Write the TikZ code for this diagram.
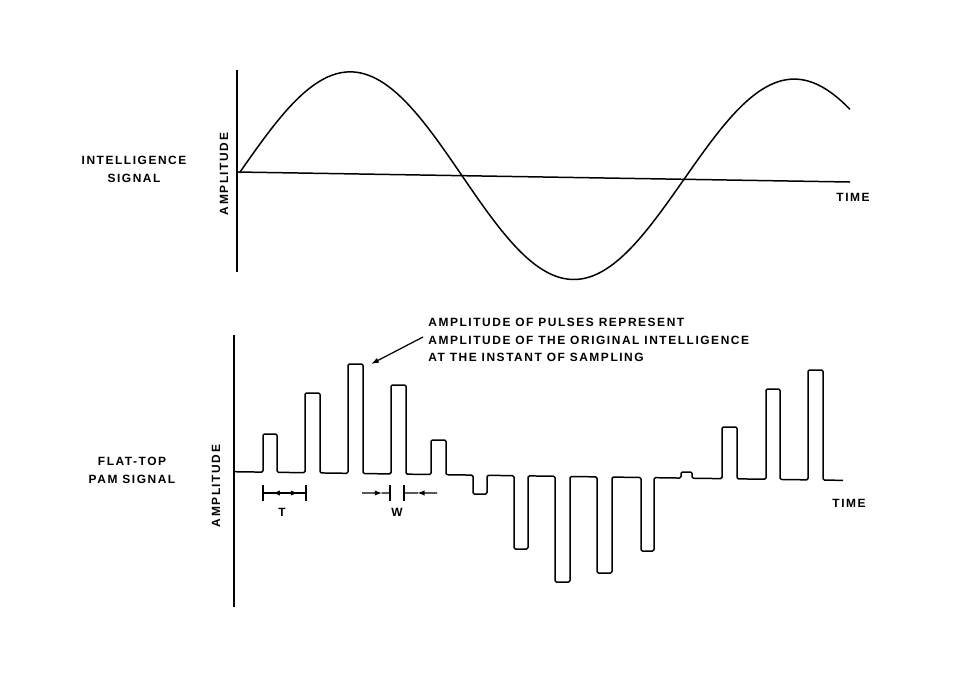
\documentclass[tikz,border=0pt]{standalone}
\usepackage{fontspec}
\usetikzlibrary{arrows.meta,calc}
\newfontfamily\capsfont[LetterSpace=13]{Liberation Sans}
\tikzset{
  axis/.style={draw=black, line width=0.85pt},
  wave/.style={draw=black, line width=0.85pt, rounded corners=0.8pt, line join=round},
  sine/.style={draw=black, line width=0.85pt, line join=round},
  lbl/.style={font=\capsfont\bfseries\fontsize{6.8}{10}\selectfont, inner sep=0pt, text=black},
  note/.style={lbl, align=left},
  pointer/.style={-{Latex[length=4.5pt,width=3pt]}, draw=black, line width=0.7pt},
  dim/.style={draw=black, line width=0.7pt},
  dimtip/.style={dim, -{Latex[length=4.2pt,width=3pt]}},
}
% baseline of the PAM trace (slightly tilted, as in the scan)
\newcommand{\pambase}[1]{471.7+0.0142*(#1-234)}
\newcommand{\tickh}{8}

\begin{document}
\begin{tikzpicture}[x=0.02cm, y=-0.02cm]
  \useasboundingbox (0,0) rectangle (960,677);

  % --- intelligence signal -------------------------------------------------
  \coordinate (axA-top) at (237,70);
  \coordinate (axA-bot) at (237,272);
  \coordinate (axA-org) at (237,172);
  \coordinate (axA-end) at (850,182);
  \draw[axis] (axA-top) -- (axA-bot);
  \draw[axis] (axA-org) -- (axA-end);
  \draw[sine] plot[domain=240:850, samples=220, variable=\t]
    ({\t}, {172+0.0163*(\t-237) - 102*sin(0.8108*(\t-240))});

  \node[lbl, align=center] (sigA) at (134,169.5) {INTELLIGENCE\\SIGNAL};
  \node[lbl, rotate=90] (ampA) at (224,174) {AMPLITUDE};
  \node[lbl] (timeA) at (853,197) {TIME};

  % --- flat-top PAM signal -------------------------------------------------
  \coordinate (axB-top) at (234,335);
  \coordinate (axB-bot) at (234,607);
  \draw[axis] (axB-top) -- (axB-bot);
  \draw[wave] (234,{\pambase{234}})
    \foreach \x/\w/\t in {263/14/434, 305/15/393, 348/15/364, 391/15/385,
                          431/15/440, 473/14/494, 514/14/549, 555/15/582,
                          597/15/573, 641/13/551, 681/11/472, 722/15/427,
                          766/14/389, 808/15/370}
    { -- (\x,{\pambase{\x}}) -- (\x,\t) -- ({\x+\w},\t) -- ({\x+\w},{\pambase{\x+\w}}) }
    -- (843,{\pambase{843}});

  \node[lbl, align=center] (sigB) at (132,470.5) {FLAT-TOP\\PAM SIGNAL};
  \node[lbl, rotate=90] (ampB) at (216,486) {AMPLITUDE};
  \node[lbl] (timeB) at (849,503) {TIME};

  % --- annotation ----------------------------------------------------------
  \node[note, anchor=west] (note) at (428,340)
    {AMPLITUDE OF PULSES REPRESENT\\
     AMPLITUDE OF THE ORIGINAL INTELLIGENCE\\
     AT THE INSTANT OF SAMPLING};
  \coordinate (peak) at (371,364);
  \draw[pointer] ([shift={(-5,-3)}]note.west) -- (peak);

  % --- sampling period T ---------------------------------------------------
  \coordinate (T-l) at (263,493);
  \coordinate (T-r) at (306,493);
  \draw[dim] (T-l) -- (T-r);
  \foreach \c in {T-l,T-r} {
    \draw[dim] ([yshift=-\tickh*0.02cm]\c) -- ([yshift=\tickh*0.02cm]\c);
  }
  \draw[dimtip] ($(T-l)!0.5!(T-r)$) -- ($(T-l)!0.22!(T-r)$);
  \draw[dimtip] ($(T-l)!0.5!(T-r)$) -- ($(T-l)!0.82!(T-r)$);
  \node[lbl] (T) at (282,512) {T};

  % --- pulse width W -------------------------------------------------------
  \coordinate (W-l) at (390,493);
  \coordinate (W-r) at (404,493);
  \coordinate (W-lo) at (362,493);
  \coordinate (W-ro) at (437,493);
  \foreach \c in {W-l,W-r} {
    \draw[dim] ([yshift=-\tickh*0.02cm]\c) -- ([yshift=\tickh*0.02cm]\c);
  }
  \draw[dimtip] (W-lo) -- ($(W-lo)!0.72!(W-l)$);
  \draw[dim] ($(W-lo)!0.7!(W-l)$) -- (W-l);
  \draw[dimtip] (W-ro) -- ($(W-ro)!0.6!(W-r)$);
  \draw[dim] ($(W-ro)!0.58!(W-r)$) -- (W-r);
  \node[lbl] (W) at (397,512) {W};

\end{tikzpicture}
\end{document}
